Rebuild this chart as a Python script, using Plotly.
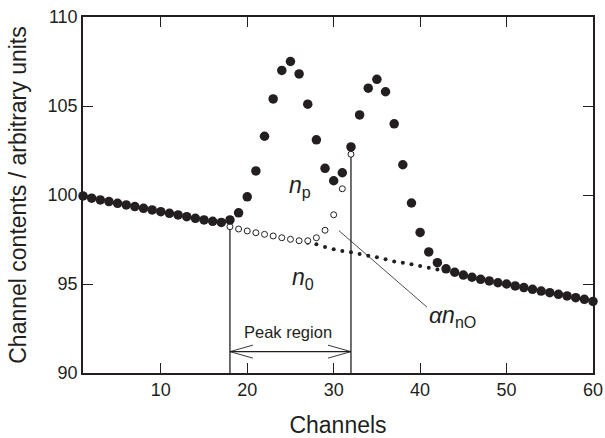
import plotly.graph_objects as go

# ---------------- data ----------------
channels = list(range(1, 61))
counts = [99.95, 99.82, 99.72, 99.63, 99.53, 99.44, 99.35, 99.25, 99.16, 99.06,
          98.97, 98.88, 98.78, 98.69, 98.60, 98.52, 98.46, 98.60, 99.00, 99.90,
          101.35, 103.30, 105.40, 107.00, 107.50, 106.80, 105.10, 103.10, 101.50, 100.80,
          101.25, 102.70, 104.50, 106.00, 106.50, 105.80, 104.00, 101.70, 99.55, 97.90,
          96.80, 96.20, 95.85, 95.66, 95.50, 95.38, 95.26, 95.17, 95.07, 95.00,
          94.89, 94.80, 94.70, 94.60, 94.51, 94.42, 94.33, 94.23, 94.14, 94.02]

bg_channels = list(range(18, 33))
bg_counts = [98.22, 98.09, 97.98, 97.88, 97.79, 97.70, 97.60, 97.51, 97.43, 97.43,
             97.60, 98.02, 98.89, 100.35, 102.29]

nO_channels = list(range(27, 43))
nO_counts = [97.32, 97.23, 97.08, 96.95, 96.85, 96.78, 96.69, 96.59, 96.50, 96.39,
             96.27, 96.20, 96.11, 96.01, 95.91, 95.81]

peak_start, peak_end = 18, 32
arrow_level = 91.2
x_ticks = [10, 20, 30, 40, 50, 60]
y_ticks = [90, 95, 100, 105, 110]

ink = "#231f20"
FONT = "Liberation Sans, Arial, Helvetica, sans-serif"

fig = go.Figure()

# peak region boundaries (vertical lines up to background points)
for ch, top in [(peak_start, bg_counts[0]), (peak_end, bg_counts[-1])]:
    fig.add_trace(go.Scatter(x=[ch, ch], y=[y_ticks[0], top], mode="lines",
                             line=dict(color=ink, width=1.3), hoverinfo="skip",
                             showlegend=False, cliponaxis=False))

# double arrow
fig.add_trace(go.Scatter(x=[peak_start, peak_end], y=[arrow_level, arrow_level], mode="lines",
                         line=dict(color=ink, width=1.3), showlegend=False, hoverinfo="skip"))

# alpha n_nO small dots
fig.add_trace(go.Scatter(x=nO_channels, y=nO_counts, mode="markers",
                         marker=dict(size=4, color=ink), showlegend=False))
# background open circles
fig.add_trace(go.Scatter(x=bg_channels, y=bg_counts, mode="markers",
                         marker=dict(size=6, color="white", symbol="circle",
                                     line=dict(color=ink, width=1)), showlegend=False))
# channel contents
fig.add_trace(go.Scatter(x=channels, y=counts, mode="markers",
                         marker=dict(size=9.5, color=ink), showlegend=False, cliponaxis=False))

shapes = []
# open arrowheads (pixel-sized paths anchored at the arrow ends)
shapes.append(dict(type="path", xref="x", yref="y", xsizemode="pixel", ysizemode="pixel",
                   xanchor=peak_start, yanchor=arrow_level,
                   path="M 23 6.5 L 0 0 L 23 -6.5", line=dict(color=ink, width=0.9)))
shapes.append(dict(type="path", xref="x", yref="y", xsizemode="pixel", ysizemode="pixel",
                   xanchor=peak_end, yanchor=arrow_level,
                   path="M -23 6.5 L 0 0 L -23 -6.5", line=dict(color=ink, width=0.9)))
# leader line for alpha n_nO
shapes.append(dict(type="line", xref="x", yref="y", x0=30.6, y0=98.0, x1=40.8, y1=93.7,
                   line=dict(color=ink, width=0.8)))

annotations = [
    dict(x=26.1, y=100.45, text="<i>n</i><sub>p</sub>", showarrow=False,
         font=dict(size=23, color=ink, family=FONT)),
    dict(x=26.5, y=95.3, text="<i>n</i><sub>0</sub>", showarrow=False,
         font=dict(size=23, color=ink, family=FONT)),
    dict(x=43.7, y=93.2, text="<i>αn</i><sub>nO</sub>", showarrow=False,
         font=dict(size=23, color=ink, family=FONT)),
    dict(x=24.7, y=92.3, text="Peak region", showarrow=False,
         font=dict(size=16.5, color=ink, family=FONT)),
]

axis_common = dict(showgrid=False, zeroline=False, showline=True, mirror="ticks",
                   linecolor=ink, linewidth=1.5, ticks="inside", ticklen=10,
                   tickwidth=1.3, tickcolor=ink, automargin=False,
                   tickfont=dict(size=18, color=ink, family=FONT))

fig.update_layout(
    template="none",
    width=605, height=438,
    margin=dict(l=83, r=12, t=17, b=65),
    paper_bgcolor="white", plot_bgcolor="white",
    font=dict(family=FONT, color=ink),
    xaxis=dict(range=[1, 60], tickvals=x_ticks, **axis_common,
               title=dict(text="Channels", font=dict(size=23, color=ink, family=FONT), standoff=19)),
    yaxis=dict(range=[90, 110], tickvals=y_ticks, **axis_common,
               title=dict(text="Channel contents / arbitrary units",
                          font=dict(size=23, color=ink, family=FONT), standoff=15)),
    shapes=shapes, annotations=annotations,
)

fig.write_html("out.html", config={"displayModeBar": False},
               post_script="document.body.style.margin='0';")
